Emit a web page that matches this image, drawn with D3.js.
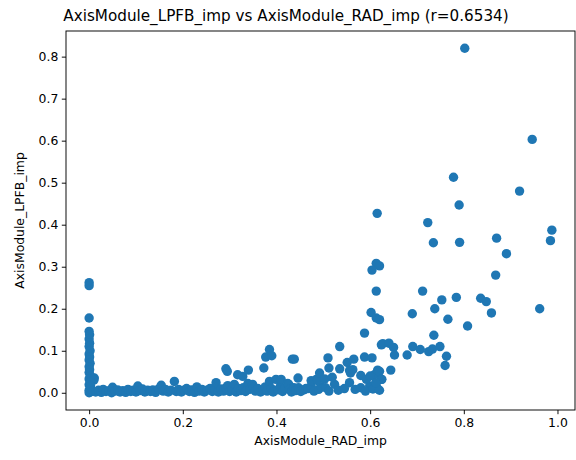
<!DOCTYPE html>
<html>
<head>
<meta charset="utf-8">
<script src="https://cdn.jsdelivr.net/npm/d3@7"></script>
<style>
  body { margin: 0; background: #fff; }
  text { font-family: "DejaVu Sans", sans-serif; fill: #000; }
</style>
</head>
<body>
<div id="chart"></div>
<script>
// [AxisModule_RAD_imp, AxisModule_LPFB_imp] pairs

// points stacked on RAD_imp = 0
const zeroColumn = [
  [0, 0.262], [0, 0.255], [0, 0.178], [0, 0.146], [0.001, 0.138], [0, 0.128],
  [0.001, 0.118], [0, 0.110], [0.002, 0.100], [0, 0.092], [0.001, 0.085], [0, 0.078],
  [0.002, 0.070], [0, 0.062], [0.001, 0.055], [0, 0.048], [0.003, 0.040], [0, 0.033],
  [0.011, 0.035], [0.010, 0.030], [0.002, 0.026], [0, 0.019], [0.003, 0.012], [0, 0.006],
  [0.002, 0.002], [0, 0.000], [0.004, 0.008], [0.003, 0.016]
]

// the dense band along the bottom
const lowBand = [
  [0.008, 0.004], [0.014, 0.002], [0.020, 0.006], [0.026, 0.001], [0.030, 0.008], [0.036, 0.003],
  [0.042, 0.005], [0.048, 0.000], [0.050, 0.013], [0.055, 0.004], [0.061, 0.007], [0.066, 0.002],
  [0.072, 0.005], [0.078, 0.001], [0.083, 0.008], [0.089, 0.003], [0.094, 0.006], [0.100, 0.002],
  [0.104, 0.016], [0.108, 0.005], [0.114, 0.009], [0.119, 0.002], [0.125, 0.006], [0.131, 0.003],
  [0.136, 0.007], [0.142, 0.001], [0.148, 0.009], [0.154, 0.018], [0.158, 0.004], [0.163, 0.008],
  [0.169, 0.002], [0.175, 0.006], [0.182, 0.027], [0.186, 0.003], [0.191, 0.008], [0.197, 0.002],
  [0.203, 0.006], [0.208, 0.010], [0.214, 0.003], [0.219, 0.007], [0.225, 0.001], [0.230, 0.014],
  [0.235, 0.004], [0.241, 0.008], [0.246, 0.002], [0.252, 0.006], [0.258, 0.010], [0.263, 0.003],
  [0.268, 0.007], [0.271, 0.024], [0.276, 0.002], [0.281, 0.009], [0.287, 0.004], [0.292, 0.012],
  [0.296, 0.017], [0.300, 0.003], [0.305, 0.008], [0.310, 0.020], [0.314, 0.002], [0.319, 0.010],
  [0.324, 0.005], [0.329, 0.012], [0.334, 0.003], [0.339, 0.022], [0.343, 0.008], [0.349, 0.020],
  [0.351, 0.013], [0.355, 0.004], [0.360, 0.010], [0.366, 0.002], [0.371, 0.008], [0.376, 0.014],
  [0.380, 0.004], [0.385, 0.027], [0.389, 0.010], [0.393, 0.002], [0.399, 0.032], [0.403, 0.007],
  [0.408, 0.015], [0.410, 0.032], [0.413, 0.003], [0.418, 0.010], [0.424, 0.022], [0.426, 0.020],
  [0.428, 0.008], [0.432, 0.002], [0.437, 0.012], [0.441, 0.005], [0.447, 0.012], [0.452, 0.003],
  [0.458, 0.007], [0.463, 0.010], [0.467, 0.010], [0.474, 0.016], [0.480, 0.004], [0.485, 0.032],
  [0.490, 0.008], [0.496, 0.014], [0.505, 0.012], [0.512, 0.004], [0.524, 0.020], [0.532, 0.006],
  [0.545, 0.010], [0.556, 0.024], [0.568, 0.008], [0.580, 0.012], [0.599, 0.016], [0.613, 0.017],
  [0.590, 0.004], [0.606, 0.009], [0.620, 0.006]
]

// points rising out of the band
const midPoints = [
  [0.292, 0.057], [0.295, 0.051], [0.317, 0.043], [0.328, 0.039], [0.340, 0.054], [0.373, 0.059],
  [0.377, 0.085], [0.385, 0.103], [0.390, 0.088], [0.434, 0.080], [0.438, 0.080], [0.446, 0.035],
  [0.474, 0.029], [0.488, 0.029], [0.492, 0.047], [0.503, 0.033], [0.510, 0.083], [0.512, 0.059],
  [0.519, 0.037], [0.535, 0.110], [0.535, 0.057], [0.551, 0.072], [0.556, 0.053], [0.558, 0.047],
  [0.563, 0.055], [0.565, 0.080], [0.580, 0.041], [0.588, 0.085], [0.588, 0.142], [0.592, 0.032],
  [0.604, 0.083], [0.609, 0.043], [0.616, 0.054], [0.620, 0.051], [0.624, 0.032], [0.625, 0.032],
  [0.624, 0.114], [0.627, 0.117], [0.640, 0.118], [0.644, 0.054], [0.650, 0.108], [0.652, 0.090],
  [0.679, 0.090], [0.691, 0.110], [0.707, 0.103], [0.725, 0.098], [0.733, 0.104], [0.736, 0.137],
  [0.749, 0.110], [0.760, 0.065], [0.763, 0.087], [0.612, 0.024], [0.600, 0.040]
]

// the scattered upper points
const upperPoints = [
  [0.802, 0.820], [0.946, 0.603], [0.778, 0.513], [0.919, 0.480], [0.790, 0.447], [0.615, 0.427],
  [0.723, 0.405], [0.988, 0.387], [0.985, 0.362], [0.791, 0.358], [0.870, 0.368], [0.735, 0.357],
  [0.891, 0.331], [0.613, 0.308], [0.620, 0.302], [0.604, 0.292], [0.868, 0.280], [0.613, 0.242],
  [0.712, 0.242], [0.753, 0.221], [0.784, 0.227], [0.836, 0.225], [0.848, 0.217], [0.738, 0.200],
  [0.962, 0.200], [0.602, 0.191], [0.690, 0.188], [0.859, 0.190], [0.613, 0.178], [0.620, 0.174],
  [0.766, 0.175], [0.808, 0.159]
]

const xTicks = [0, 0.2, 0.4, 0.6, 0.8, 1.0]
const yTicks = [0, 0.1, 0.2, 0.3, 0.4, 0.5, 0.6, 0.7, 0.8]

const data = zeroColumn.concat(lowBand, midPoints, upperPoints)

const width = 576
const height = 460
const plotLeft = 66, plotRight = 575, plotTop = 31, plotBottom = 410

const svg = d3.select("#chart")
  .append("svg")
  .attr("width", width)
  .attr("height", height)

// matplotlib style 5% margins on both axes
function padded(ext) {
  const m = (ext[1] - ext[0]) * 0.05
  return [ext[0] - m, ext[1] + m]
}

const x = d3.scaleLinear()
  .domain(padded(d3.extent(data, d => d[0])))
  .range([plotLeft, plotRight])

const y = d3.scaleLinear()
  .domain(padded(d3.extent(data, d => d[1])))
  .range([plotBottom, plotTop])

// points
svg.append("g")
  .selectAll("circle")
  .data(data)
  .join("circle")
  .attr("cx", d => x(d[0]))
  .attr("cy", d => y(d[1]))
  .attr("r", 4.7)
  .style("fill", "#1f77b4")

// axes
svg.append("g")
  .attr("transform", `translate(0,${plotBottom})`)
  .call(d3.axisBottom(x).tickValues(xTicks).tickFormat(d3.format(".1f")).tickSize(4.2).tickPadding(3.5))

svg.append("g")
  .attr("transform", `translate(${plotLeft},0)`)
  .call(d3.axisLeft(y).tickValues(yTicks).tickFormat(d3.format(".1f")).tickSize(4.2).tickPadding(3.5))

svg.selectAll(".domain").remove()
svg.selectAll(".tick line").attr("stroke", "#000").attr("stroke-width", 0.95)
svg.selectAll(".tick text")
  .style("font-size", "12.4px")
  .style("font-family", "DejaVu Sans")
  .attr("fill", "#000")

// frame
svg.append("rect")
  .attr("x", plotLeft)
  .attr("y", plotTop)
  .attr("width", plotRight - plotLeft)
  .attr("height", plotBottom - plotTop)
  .attr("fill", "none")
  .attr("stroke", "#000")
  .attr("stroke-width", 0.95)

// labels
svg.append("text")
  .attr("x", (plotLeft + plotRight) / 2)
  .attr("y", 445)
  .attr("text-anchor", "middle")
  .style("font-size", "12.4px")
  .text("AxisModule_RAD_imp")

svg.append("text")
  .attr("transform", `translate(24,${(plotTop + plotBottom) / 2}) rotate(-90)`)
  .attr("text-anchor", "middle")
  .style("font-size", "12.4px")
  .text("AxisModule_LPFB_imp")

svg.append("text")
  .attr("x", 286)
  .attr("y", 21)
  .attr("text-anchor", "middle")
  .style("font-size", "15.2px")
  .text("AxisModule_LPFB_imp vs AxisModule_RAD_imp (r=0.6534)")
</script>
</body>
</html>
